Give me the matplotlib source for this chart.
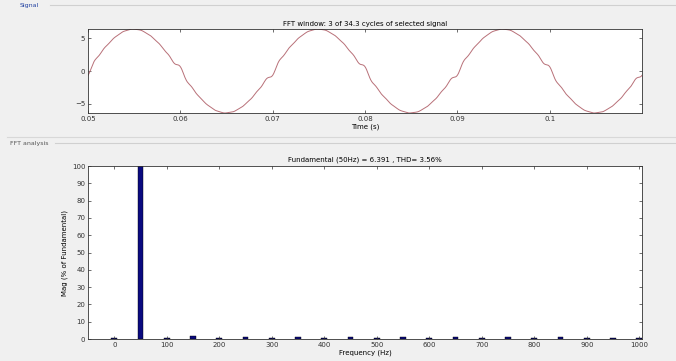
import numpy as np
import matplotlib
matplotlib.use("Agg")
from matplotlib import pyplot as plt

# spectrum (percent of fundamental)
harm_freqs = [0, 50, 100, 150, 200, 250, 300, 350, 400, 450, 500,
              550, 600, 650, 700, 750, 800, 850, 900, 950, 1000]
harm_mag = [0.3, 100, 0.3, 1.6, 0.3, 1.4, 0.3, 1.3, 0.3, 1.2, 0.3,
            1.1, 0.3, 1.0, 0.3, 1.0, 0.3, 0.9, 0.3, 0.8, 0.3]
harm_phase = [0, np.pi, 0, np.pi / 2, 0, np.pi / 2, 0, np.pi / 2, 0, np.pi / 2, 0,
              np.pi / 2, 0, np.pi / 2, 0, np.pi / 2, 0, np.pi / 2, 0, np.pi / 2, 0]
fundamental = 6.391
t_start, t_stop = 0.05, 0.11

freq_ticks = [0, 100, 200, 300, 400, 500, 600, 700, 800, 900, 1000]
mag_ticks = [0, 10, 20, 30, 40, 50, 60, 70, 80, 90, 100]
time_ticks = [0.05, 0.06, 0.07, 0.08, 0.09, 0.1]
time_labels = ["0.05", "0.06", "0.07", "0.08", "0.09", "0.1"]
volt_ticks = [-5, 0, 5]

# rebuild the windowed signal from its harmonic content
t = np.linspace(t_start, t_stop, 1200)
sig = np.zeros_like(t)
for f, m, ph in zip(harm_freqs, harm_mag, harm_phase):
    if f == 0 or m < 0.5:
        continue
    sig += fundamental * m / 100.0 * np.sin(2 * np.pi * f * t + ph)

bg = "#f0f0f0"
fs = 5
fig = plt.figure(figsize=(6.76, 3.61), dpi=100, facecolor=bg)

# panel captions and frame lines
fig.text(20 / 676, 1 - 6 / 361, "Signal", fontsize=4.5, color="#1f3fa0",
         va="center")
fig.text(10 / 676, 1 - 143 / 361, "FFT analysis", fontsize=4.5, color="#555555",
         va="center")
fig.add_artist(plt.Line2D([50 / 676, 1], [1 - 5 / 361] * 2, color="#d0d0d0", lw=0.8))
fig.add_artist(plt.Line2D([55 / 676, 1], [1 - 143 / 361] * 2, color="#d0d0d0", lw=0.8))
fig.add_artist(plt.Line2D([0.01, 1], [1 - 137 / 361] * 2, color="#d8d8d8", lw=0.8))

ax1 = fig.add_axes([88 / 676, 1 - 113 / 361, 554 / 676, 84 / 361])
ax1.plot(t, sig, color="#b87078", lw=0.7)
ax1.set_xlim(t_start, t_stop)
ax1.set_ylim(sig.min(), sig.max())
ax1.set_xticks(time_ticks)
ax1.set_xticklabels(time_labels)
ax1.set_yticks(volt_ticks)
ax1.set_title("FFT window: 3 of 34.3 cycles of selected signal", fontsize=fs, pad=2)
ax1.set_xlabel("Time (s)", fontsize=fs, labelpad=1)

ax2 = fig.add_axes([88 / 676, 1 - 339 / 361, 554 / 676, 173 / 361])
ax2.bar(harm_freqs, harm_mag, width=11, color="#0a0a80", edgecolor="black", lw=0.3)
ax2.set_xlim(-50, 1005)
ax2.set_ylim(0, 100)
ax2.set_xticks(freq_ticks)
ax2.set_yticks(mag_ticks)
ax2.set_title("Fundamental (50Hz) = 6.391 , THD= 3.56%", fontsize=fs, pad=3)
ax2.set_xlabel("Frequency (Hz)", fontsize=fs, labelpad=1)
ax2.set_ylabel("Mag (% of Fundamental)", fontsize=fs, labelpad=3)

for ax in (ax1, ax2):
    ax.set_facecolor("white")
    ax.tick_params(direction="in", length=2.5, width=0.5, labelsize=fs,
                   top=True, right=True, pad=2, colors="#333333")
    for s in ax.spines.values():
        s.set_linewidth(0.6)
        s.set_color("#333333")

fig.savefig("out.png", dpi=100, facecolor=bg)
